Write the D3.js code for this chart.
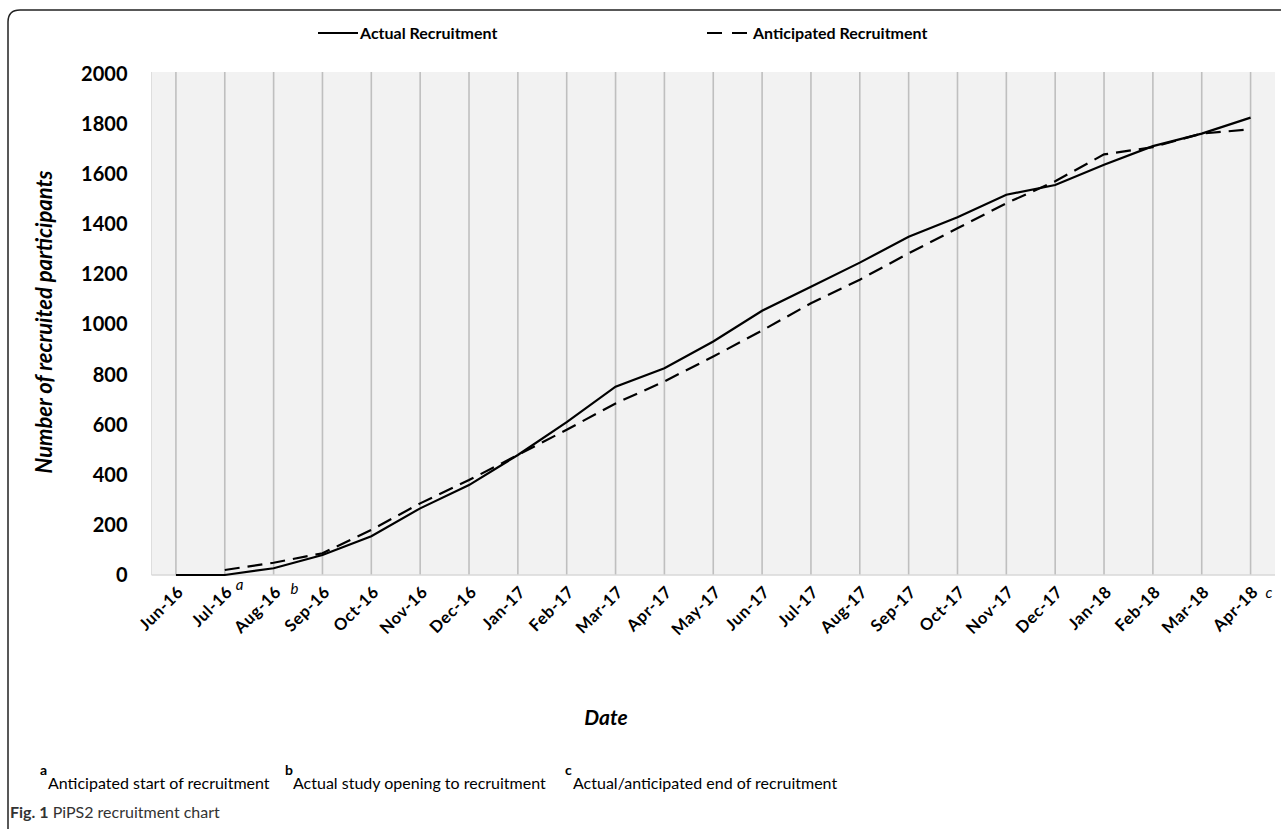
<!DOCTYPE html>
<html>
<head>
<meta charset="utf-8">
<script src="https://cdn.jsdelivr.net/npm/d3@7"></script>
<style>
  body { margin: 0; background: #fff; }
  text { font-family: Lato, "Open Sans", sans-serif; fill: #000; }
</style>
</head>
<body>
<div id="chart"></div>
<script>
const width = 1281;
const height = 829;

// data
const months = ["Jun-16", "Jul-16", "Aug-16", "Sep-16", "Oct-16", "Nov-16", "Dec-16",
  "Jan-17", "Feb-17", "Mar-17", "Apr-17", "May-17", "Jun-17", "Jul-17", "Aug-17",
  "Sep-17", "Oct-17", "Nov-17", "Dec-17", "Jan-18", "Feb-18", "Mar-18", "Apr-18"];
const actual = [0, 0, 27, 80, 155, 266, 359, 479, 610, 752, 825, 932, 1055, 1151,
  1247, 1350, 1428, 1518, 1557, 1638, 1712, 1762, 1826];
const anticipated = [null, 20, 49, 87, 180, 286, 379, 479, 580, 685, 773, 872, 976,
  1085, 1179, 1284, 1384, 1484, 1572, 1679, 1708, 1762, 1779];
const yTicks = [0, 200, 400, 600, 800, 1000, 1200, 1400, 1600, 1800, 2000];
const notes = [{month: "Jul-16", letter: "a", dx: 11, dy: 15},
  {month: "Aug-16", letter: "b", dx: 17, dy: 19},
  {month: "Apr-18", letter: "c", dx: 15, dy: 23}];
const footnotes = [
  {letter: "a", text: "Anticipated start of recruitment", x: 40},
  {letter: "b", text: "Actual study opening to recruitment", x: 285},
  {letter: "c", text: "Actual/anticipated end of recruitment", x: 565}];

const svg = d3.select("#chart")
    .append("svg")
    .attr("width", width)
    .attr("height", height);

// outer frame with rounded top-left corner
svg.append("path")
    .attr("d", "M8,840 L8,22 Q8,10 20,10 L1290,10")
    .attr("fill", "none")
    .attr("stroke", "#222")
    .attr("stroke-width", 1.5);

const plot = {left: 151.5, right: 1275, top: 72, bottom: 575};

const x = d3.scalePoint()
    .domain(months)
    .range([plot.left, plot.right])
    .padding(0.5);

const y = d3.scaleLinear()
    .domain([0, 2000])
    .range([575, 74]);

svg.append("rect")
    .attr("x", plot.left)
    .attr("y", plot.top)
    .attr("width", plot.right - plot.left)
    .attr("height", plot.bottom - plot.top)
    .attr("fill", "#f2f2f2");

svg.append("line")
    .attr("x1", plot.left).attr("x2", plot.left)
    .attr("y1", plot.top).attr("y2", plot.bottom)
    .attr("stroke", "#dedede");

// vertical gridlines at every month
svg.selectAll("line.grid")
    .data(months)
    .join("line")
    .attr("class", "grid")
    .attr("x1", d => x(d)).attr("x2", d => x(d))
    .attr("y1", plot.top).attr("y2", plot.bottom)
    .attr("stroke", "#bfbfbf")
    .attr("stroke-width", 1.6);

svg.append("line")
    .attr("x1", plot.left).attr("x2", plot.right)
    .attr("y1", plot.bottom).attr("y2", plot.bottom)
    .attr("stroke", "#d9d9d9")
    .attr("stroke-width", 1.5);

// y axis
const yAxis = svg.append("g")
    .attr("transform", `translate(${plot.left},0)`)
    .call(d3.axisLeft(y).tickValues(yTicks).tickFormat(d3.format("d")).tickSize(0).tickPadding(24));
yAxis.select(".domain").remove();
yAxis.selectAll("text")
    .style("font-size", "20px")
    .style("font-weight", "bold")
    .style("font-family", "Lato, sans-serif");

// x axis
const xAxis = svg.append("g")
    .attr("transform", `translate(0,${plot.bottom})`)
    .call(d3.axisBottom(x).tickSize(0));
xAxis.select(".domain").remove();
xAxis.selectAll("text")
    .attr("text-anchor", "end")
    .attr("x", 0).attr("y", 0)
    .attr("dy", "0.35em")
    .attr("transform", "translate(4,14) rotate(-45)")
    .style("font-size", "16.5px")
    .style("font-weight", "bold")
    .style("letter-spacing", "0.6px")
    .style("font-family", "Lato, sans-serif");

svg.selectAll("text.note")
    .data(notes)
    .join("text")
    .attr("class", "note")
    .attr("x", d => x(d.month) + d.dx)
    .attr("y", d => plot.bottom + d.dy)
    .style("font-size", "15px")
    .style("font-style", "italic")
    .text(d => d.letter);

// lines
const line = d3.line()
    .defined(d => d != null)
    .x((d, i) => x(months[i]))
    .y(d => y(d));

svg.append("path")
    .datum(anticipated)
    .attr("d", line)
    .attr("fill", "none")
    .attr("stroke", "#000")
    .attr("stroke-width", 2.2)
    .attr("stroke-dasharray", "15,8");

svg.append("path")
    .datum(actual)
    .attr("d", line)
    .attr("fill", "none")
    .attr("stroke", "#000")
    .attr("stroke-width", 2.2);

// legend
svg.append("line")
    .attr("x1", 318).attr("x2", 358).attr("y1", 33).attr("y2", 33)
    .attr("stroke", "#000").attr("stroke-width", 2.2);
svg.append("text")
    .attr("x", 360).attr("y", 39)
    .style("font-size", "16px").style("font-weight", "bold")
    .text("Actual Recruitment");
svg.append("line")
    .attr("x1", 707).attr("x2", 748).attr("y1", 33).attr("y2", 33)
    .attr("stroke", "#000").attr("stroke-width", 2.2)
    .attr("stroke-dasharray", "15,10");
svg.append("text")
    .attr("x", 753).attr("y", 39)
    .style("font-size", "16px").style("font-weight", "bold")
    .text("Anticipated Recruitment");

// axis titles
svg.append("text")
    .attr("transform", "translate(52,322) rotate(-90)")
    .attr("text-anchor", "middle")
    .style("font-size", "22px").style("font-weight", "bold").style("font-style", "italic")
    .text("Number of recruited participants");

svg.append("text")
    .attr("x", 606).attr("y", 725)
    .attr("text-anchor", "middle")
    .style("font-size", "21px").style("font-weight", "bold").style("font-style", "italic")
    .text("Date");

// footnotes
const fn = svg.selectAll("g.footnote")
    .data(footnotes)
    .join("g")
    .attr("class", "footnote");
fn.append("text")
    .attr("x", d => d.x).attr("y", 775)
    .style("font-size", "14px")
    .style("font-weight", "bold")
    .text(d => d.letter);
fn.append("text")
    .attr("x", d => d.x + 8).attr("y", 789)
    .style("font-size", "16px")
    .text(d => d.text);

// caption
const cap = svg.append("text")
    .attr("x", 10).attr("y", 818)
    .style("font-size", "16px")
    .style("fill", "#333");
cap.append("tspan").style("font-weight", "bold").text("Fig. 1");
cap.append("tspan").text(" PiPS2 recruitment chart");
</script>
</body>
</html>
